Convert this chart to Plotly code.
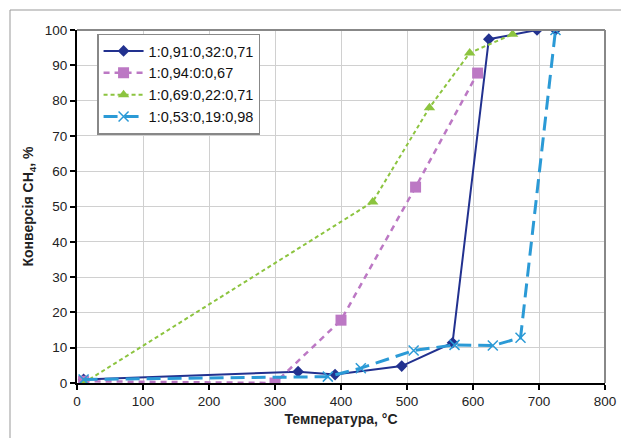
import plotly.graph_objects as go

# Series data (temperature °C, CH4 conversion %)
s1_name = "1:0,91:0,32:0,71"
s1_x = [10, 335, 391, 492, 569, 624, 697, 725]
s1_y = [1.0, 3.2, 2.4, 4.8, 11.4, 97.4, 100, 100]

s2_name = "1:0,94:0:0,67"
s2_x = [10, 300, 400, 513, 607]
s2_y = [0.5, 0.0, 17.8, 55.5, 87.8]

s3_name = "1:0,69:0,22:0,71"
s3_x = [10, 448, 534, 595, 660]
s3_y = [0.0, 51.3, 78.0, 93.5, 98.8]

s4_name = "1:0,53:0,19:0,98"
s4_x = [10, 380, 430, 510, 572, 630, 672, 725]
s4_y = [1.0, 1.8, 4.2, 9.2, 10.8, 10.6, 12.8, 100]

x_ticks = [0, 100, 200, 300, 400, 500, 600, 700, 800]
y_ticks = [0, 10, 20, 30, 40, 50, 60, 70, 80, 90, 100]

fig = go.Figure()
fig.add_trace(go.Scatter(x=s1_x, y=s1_y, name=s1_name, mode="lines+markers", legendgroup="a",
                         line=dict(color="#22318F", width=2),
                         marker=dict(symbol="diamond", size=9, color="#22318F")))
fig.add_trace(go.Scatter(x=s2_x, y=s2_y, name=s2_name, mode="lines+markers", legendgroup="b",
                         line=dict(color="#BC78C4", width=2.5, dash="6px,5px"),
                         marker=dict(symbol="square", size=11, color="#BC78C4")))
fig.add_trace(go.Scatter(x=s3_x, y=s3_y, name=s3_name, mode="lines+markers", legendgroup="c",
                         line=dict(color="#8CC43F", width=2, dash="4px,3px"),
                         marker=dict(symbol="triangle-up", size=10, color="#8CC43F")))
fig.add_trace(go.Scatter(x=s4_x, y=s4_y, name=s4_name, mode="lines+markers", legendgroup="d",
                         line=dict(color="#2B9AD6", width=3, dash="14px,7px"),
                         marker=dict(symbol="x-thin", size=10,
                                     line=dict(color="#2B9AD6", width=1.5))))

font_fam = "Liberation Sans, Arial, sans-serif"
fig.update_layout(
    width=621, height=438,
    margin=dict(l=77, r=16, t=30, b=55, autoexpand=False),
    paper_bgcolor="white", plot_bgcolor="white",
    font=dict(family=font_fam, size=13, color="#222"),
    showlegend=True,
    legend=dict(x=0.038, y=0.99, xanchor="left", yanchor="top",
                bgcolor="white", bordercolor="#888", borderwidth=1.5,
                font=dict(size=14.5, color="#111"), tracegroupgap=0,
                traceorder="grouped", itemwidth=40),
    xaxis=dict(range=[0, 800], tickvals=x_ticks, showgrid=True, automargin=False,
               gridcolor="#D0D0D0", gridwidth=1,
               showline=True, linecolor="black", linewidth=2,
               ticks="outside", ticklen=5, tickwidth=2, tickcolor="black",
               mirror=False, zeroline=False,
               tickfont=dict(size=13.5, color="#222"),
               title=dict(text="<b>Температура, °С</b>", font=dict(size=14), standoff=6)),
    yaxis=dict(range=[0, 100], tickvals=y_ticks, showgrid=True, automargin=False,
               gridcolor="#D0D0D0", gridwidth=1,
               showline=True, linecolor="black", linewidth=2,
               ticks="outside", ticklen=5, tickwidth=2, tickcolor="black",
               zeroline=False,
               tickfont=dict(size=13.5, color="#222"),
               title=dict(text="<b>Конверсія CH<sub>4</sub>, %</b>", font=dict(size=14), standoff=8)),
)

# grey plot-area border on top and right
fig.add_shape(type="line", xref="paper", yref="paper", x0=0, x1=1, y0=1, y1=1,
              line=dict(color="#888", width=2))
fig.add_shape(type="line", xref="paper", yref="paper", x0=1, x1=1, y0=0, y1=1,
              line=dict(color="#888", width=2))
# outer chart frame
fig.add_shape(type="rect", xref="paper", yref="paper",
              x0=-67/528, x1=1.2, y0=-1, y1=20/353 + 1,
              line=dict(color="#999", width=1), fillcolor="rgba(0,0,0,0)", layer="below")

fig.write_html("out.html")
